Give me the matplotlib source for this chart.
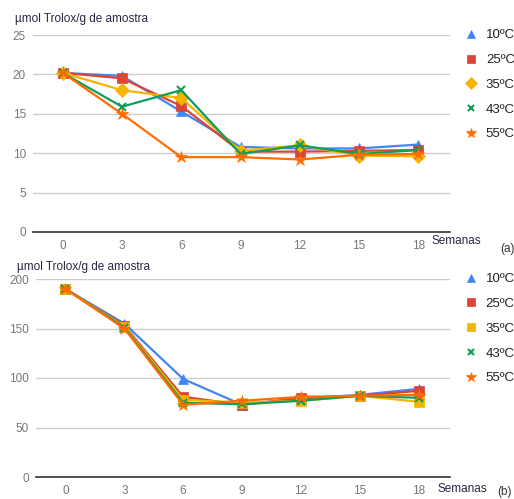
import numpy as np
from matplotlib import pyplot as plt

plt.rcParams['font.family'] = ['Liberation Sans', 'DejaVu Sans']

semanas = [0, 3, 6, 9, 12, 15, 18]
series = ['10ºC', '25ºC', '35ºC', '43ºC', '55ºC']

# (a) top panel
a_10 = [20.2, 19.8, 15.3, 10.8, 10.6, 10.6, 11.1]
a_25 = [20.2, 19.5, 16.0, 10.2, 10.2, 10.3, 10.4]
a_35 = [20.2, 18.0, 17.0, 10.3, 11.0, 9.7, 9.6]
a_43 = [20.2, 15.9, 18.0, 9.9, 11.0, 9.9, 10.4]
a_55 = [20.2, 15.0, 9.5, 9.5, 9.2, 9.8, 9.9]

# (b) bottom panel
b_10 = [190, 155, 99, 73, 79, 83, 89]
b_25 = [190, 153, 81, 73, 80, 82, 87]
b_35 = [190, 152, 78, 75, 77, 82, 76]
b_43 = [190, 151, 75, 73.5, 77, 82, 80]
b_55 = [190, 150, 73, 77, 81, 82, 83]

colors = ['#4285F4', '#DB4437', '#F4B400', '#0F9D58', '#FF6D00']

fig = plt.figure(figsize=(5.14, 4.99), dpi=100)
ax1 = fig.add_axes([33/514, 1-232/499, (450-33)/514, (232-35)/499])
ax2 = fig.add_axes([36/514, 1-477/499, (450-36)/514, (477-279)/499])


def style(ax, ymax, step):
    ax.set_xlim(-1.5, 19.6)
    ax.set_ylim(0, ymax)
    ax.set_xticks(semanas)
    ax.set_yticks(np.arange(0, ymax + 1, step))
    for s in ['top', 'right', 'left']:
        ax.spines[s].set_visible(False)
    ax.spines['bottom'].set_color('#333333')
    ax.spines['bottom'].set_linewidth(1.2)
    ax.grid(axis='y', color='#cccccc', lw=1)
    ax.set_axisbelow(True)
    ax.tick_params(length=0, labelsize=8.5, labelcolor='#777777', pad=5)
    ax.tick_params(axis='x', pad=6)


def draw(ax, data, markers, sizes):
    for vals, c, m, ms, lab in zip(data, colors, markers, sizes, series):
        ax.plot(semanas, vals, c=c, lw=1.6, marker=m, ms=ms, mew=1.5 if m == 'x' else 0.5,
                mec=c, label=lab)


draw(ax1, [a_10, a_25, a_35, a_43, a_55], ['^', 's', 'D', 'x', '*'], [7, 6.5, 7, 5.5, 9])
draw(ax2, [b_10, b_25, b_35, b_43, b_55], ['^', 's', 's', 'x', '*'], [7, 6.5, 6.5, 5.5, 9])
style(ax1, 25, 5)
style(ax2, 200, 50)

for ax in [ax1, ax2]:
    h, l = ax.get_legend_handles_labels()
    lg = ax.legend(h, l, loc='upper left', bbox_to_anchor=(1.01, 1.09), frameon=False,
                   handlelength=0.8, handletextpad=0.7, labelspacing=0.95, fontsize=9.5,
                   markerscale=0.85, labelcolor='#222222')
    for line in lg.get_lines():
        line.set_linestyle('none')

fig.text(15/514, 1-19/499, 'µmol Trolox/g de amostra', fontsize=8.5, color='#2b2540', va='center')
fig.text(17/514, 1-267/499, 'µmol Trolox/g de amostra', fontsize=8.5, color='#2b2540', va='center')
fig.text(432/514, 1-241/499, 'Semanas', fontsize=8.5, color='#2b2540', va='center')
fig.text(437/514, 1-489/499, 'Semanas', fontsize=8.5, color='#2b2540', va='center')
fig.text(500/514, 1-249/499, '(a)', fontsize=8.5, color='#333333', va='center')
fig.text(497/514, 1-492/499, '(b)', fontsize=8.5, color='#333333', va='center')

fig.savefig('out.png', dpi=100)
